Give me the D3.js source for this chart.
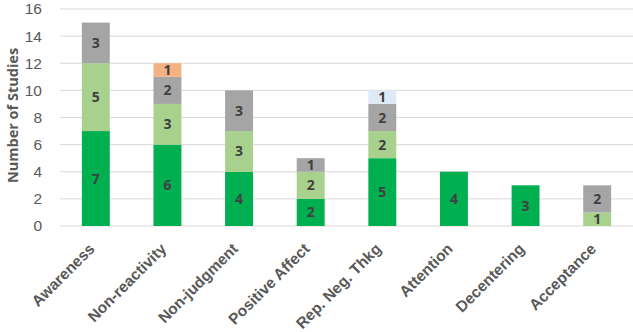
<!DOCTYPE html>
<html>
<head>
<meta charset="utf-8">
<script src="https://cdn.jsdelivr.net/npm/d3@7"></script>
<style>
  body { margin: 0; background: #fff; }
  svg { display: block; font-family: "Open Sans", sans-serif; }
</style>
</head>
<body>
<div id="chart"></div>
<script>
const categories = ["Awareness", "Non-reactivity", "Non-judgment", "Positive Affect",
    "Rep. Neg. Thkg", "Attention", "Decentering", "Acceptance"];
const seriesNames = ["s1", "s2", "s3", "s4", "s5"];
const s1 = [7, 6, 4, 2, 5, 4, 3, 0];
const s2 = [5, 3, 3, 2, 2, 0, 0, 1];
const s3 = [3, 2, 3, 1, 2, 0, 0, 2];
const s4 = [0, 1, 0, 0, 0, 0, 0, 0];
const s5 = [0, 0, 0, 0, 1, 0, 0, 0];
const yTicks = [0, 2, 4, 6, 8, 10, 12, 14, 16];
const colors = ["#00b050", "#a9d18e", "#a5a5a5", "#f4b183", "#deebf7"];

(function () {
    const W = 633, H = 332;
    const margin = { top: 9, right: 0, bottom: 106, left: 60 };
    const width = W - margin.left - margin.right,
        height = H - margin.top - margin.bottom;

    const rows = categories.map((c, i) => ({
        cat: c, s1: s1[i], s2: s2[i], s3: s3[i], s4: s4[i], s5: s5[i]
    }));
    const stacked = d3.stack().keys(seriesNames)(rows);

    const svg = d3.select("#chart").append("svg")
        .attr("width", W).attr("height", H)
        .append("g")
        .attr("transform", `translate(${margin.left},${margin.top})`);

    const x = d3.scaleBand().domain(categories).range([0, width])
        .paddingInner(0.61).paddingOuter(0.305);
    const y = d3.scaleLinear().domain([0, 16]).range([height, 0]);

    // gridlines
    svg.append("g")
        .selectAll("line").data(yTicks).enter().append("line")
        .attr("x1", 0).attr("x2", width)
        .attr("y1", d => y(d)).attr("y2", d => y(d))
        .attr("stroke", "#d9d9d9").attr("stroke-width", 1);

    // y axis labels
    const yAxis = svg.append("g")
        .call(d3.axisLeft(y).tickValues(yTicks).tickSize(0).tickPadding(18));
    yAxis.select(".domain").remove();
    yAxis.selectAll("text").attr("fill", "#595959").style("font-size", "15.5px");

    // bars
    const layer = svg.selectAll("g.layer").data(stacked).enter().append("g")
        .attr("class", "layer").attr("fill", (d, i) => colors[i]);
    layer.selectAll("rect").data(d => d.filter(p => p[1] - p[0] > 0)).enter().append("rect")
        .attr("x", d => x(d.data.cat))
        .attr("width", x.bandwidth())
        .attr("y", d => y(d[1]))
        .attr("height", d => y(d[0]) - y(d[1]));

    // value labels
    layer.selectAll("text").data(d => d.filter(p => p[1] - p[0] > 0)).enter().append("text")
        .attr("x", d => x(d.data.cat) + x.bandwidth() / 2)
        .attr("y", d => (y(d[0]) + y(d[1])) / 2)
        .attr("dy", "0.36em")
        .attr("text-anchor", "middle")
        .attr("fill", "#404040")
        .style("font-size", "14px").style("font-weight", "bold")
        .text(d => d[1] - d[0]);

    // x axis labels
    const xAxis = svg.append("g")
        .attr("transform", `translate(0,${height})`)
        .call(d3.axisBottom(x).tickSize(0).tickPadding(0));
    xAxis.select(".domain").remove();
    xAxis.selectAll("text")
        .attr("fill", "#595959")
        .style("font-size", "15.5px").style("font-weight", "bold")
        .attr("text-anchor", "end")
        .attr("y", 0)
        .attr("dy", "0.35em")
        .attr("transform", "translate(-4,20) rotate(-45)");

    // y axis title
    svg.append("text")
        .attr("transform", `translate(${-42},${height / 2 - 2}) rotate(-90)`)
        .attr("text-anchor", "middle")
        .attr("fill", "#595959")
        .style("font-size", "14.5px").style("font-weight", "bold")
        .text("Number of Studies");
})();
</script>
</body>
</html>
